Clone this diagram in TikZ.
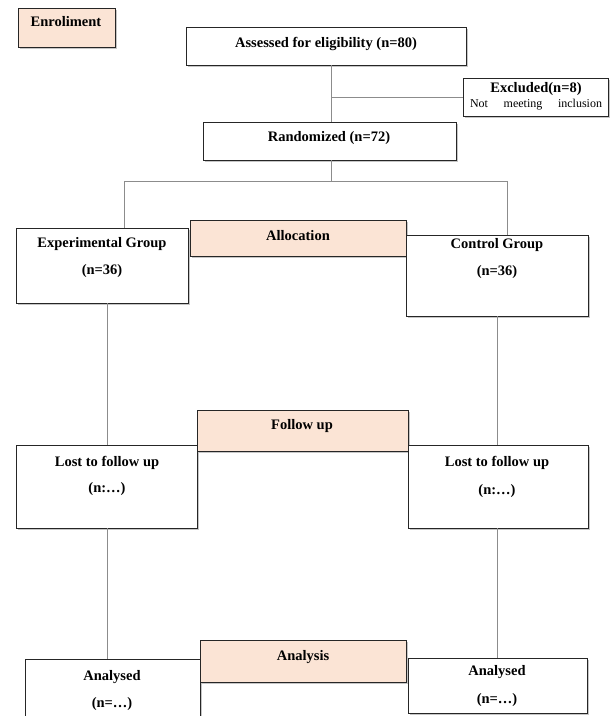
\documentclass[tikz,border=0pt]{standalone}
\usepackage{fontspec}
\setmainfont{Liberation Serif}
\usetikzlibrary{shadows}
\definecolor{peach}{HTML}{FBE4D5}
\definecolor{connc}{HTML}{8C8C8C}
\tikzset{
 box/.style={draw=black!85, line width=0.9pt, fill=white, inner sep=0pt,
   drop shadow={shadow xshift=2pt, shadow yshift=-2pt, opacity=0.45}},
 phase/.style={box, fill=peach},
 txt/.style={font=\fontsize{14.5}{17}\selectfont\bfseries, inner sep=0pt},
 small/.style={font=\fontsize{12}{13}\selectfont, inner sep=0pt},
 conn/.style={draw=connc, line width=0.7pt},
}
\newcommand\mybox[6]{\node[#6, minimum width=#4-#2, minimum height=#5-#3] (#1) at ({(#2+#4)/2},{-(#3+#5)/2}) {};}
\begin{document}
\begin{tikzpicture}[x=1pt,y=1pt]
\useasboundingbox (0,0) rectangle (614,-716);
\clip (0,0) rectangle (614,-716);
% boxes
\mybox{en}{18}{8}{115}{47}{phase}
\mybox{as}{186}{27}{466}{65}{box}
\mybox{ex}{463}{78}{608}{116}{box}
\mybox{rz}{203}{122}{456}{160}{box}
\mybox{eg}{16}{228}{188}{303}{box}
\mybox{al}{190}{220}{406}{256}{phase}
\mybox{cg}{406}{235}{588}{316}{box}
\mybox{lf}{16}{445}{197}{528}{box}
\mybox{fu}{197}{410}{408}{451}{phase}
\mybox{rf}{408}{445}{588}{528}{box}
\mybox{la}{25}{659}{200}{760}{box}
\mybox{an}{200}{640}{406}{682}{phase}
\mybox{ra}{408}{658}{587}{713}{box}
% texts
\node[txt] (ten) at (66,-22) {Enroliment};
\node[txt] (tas) at (326,-44) {Assessed for eligibility (n=80)};
\node[txt] (tex) at (536,-89) {Excluded(n=8)};
\node[small] (tex2) at (536,-105) {\makebox[132pt]{Not\hfill meeting\hfill inclusion}};
\node[txt] (trz) at (329,-138) {Randomized (n=72)};
\node[txt] (teg1) at (102,-244) {Experimental Group};
\node[txt] (teg2) at (102,-271) {(n=36)};
\node[txt] (tal) at (298,-236) {Allocation};
\node[txt] (tcg1) at (497,-245) {Control Group};
\node[txt] (tcg2) at (497,-272) {(n=36)};
\node[txt] (tfu) at (302,-426) {Follow up};
\node[txt] (tlf1) at (107,-463) {Lost to follow up};
\node[txt] (tlf2) at (107,-489) {(n:\ldots)};
\node[txt] (trf1) at (497,-463) {Lost to follow up};
\node[txt] (trf2) at (497,-491) {(n:\ldots)};
\node[txt] (tan) at (303,-657) {Analysis};
\node[txt] (tla1) at (112,-677) {Analysed};
\node[txt] (tla2) at (112,-704) {(n=\ldots)};
\node[txt] (tra1) at (497,-672) {Analysed};
\node[txt] (tra2) at (497,-700) {(n=\ldots)};
% connectors
\coordinate (j1) at (331,-97);
\draw[conn] (j1 |- as.south) -- (j1 |- rz.north);
\draw[conn] (j1) -- (j1 -| ex.west);
\coordinate (s) at (331,-181);
\coordinate (sl) at (124,-181);
\coordinate (sr) at (507,-181);
\draw[conn] (s |- rz.south) -- (s);
\draw[conn] (sl |- eg.north) -- (sl) -- (sr) -- (sr |- cg.north);
\coordinate (vl) at (107,0);
\coordinate (vr) at (497,0);
\draw[conn] (vl |- eg.south) -- (vl |- lf.north);
\draw[conn] (vr |- cg.south) -- (vr |- rf.north);
\draw[conn] (vl |- lf.south) -- (vl |- la.north);
\draw[conn] (vr |- rf.south) -- (vr |- ra.north);
\end{tikzpicture}
\end{document}
